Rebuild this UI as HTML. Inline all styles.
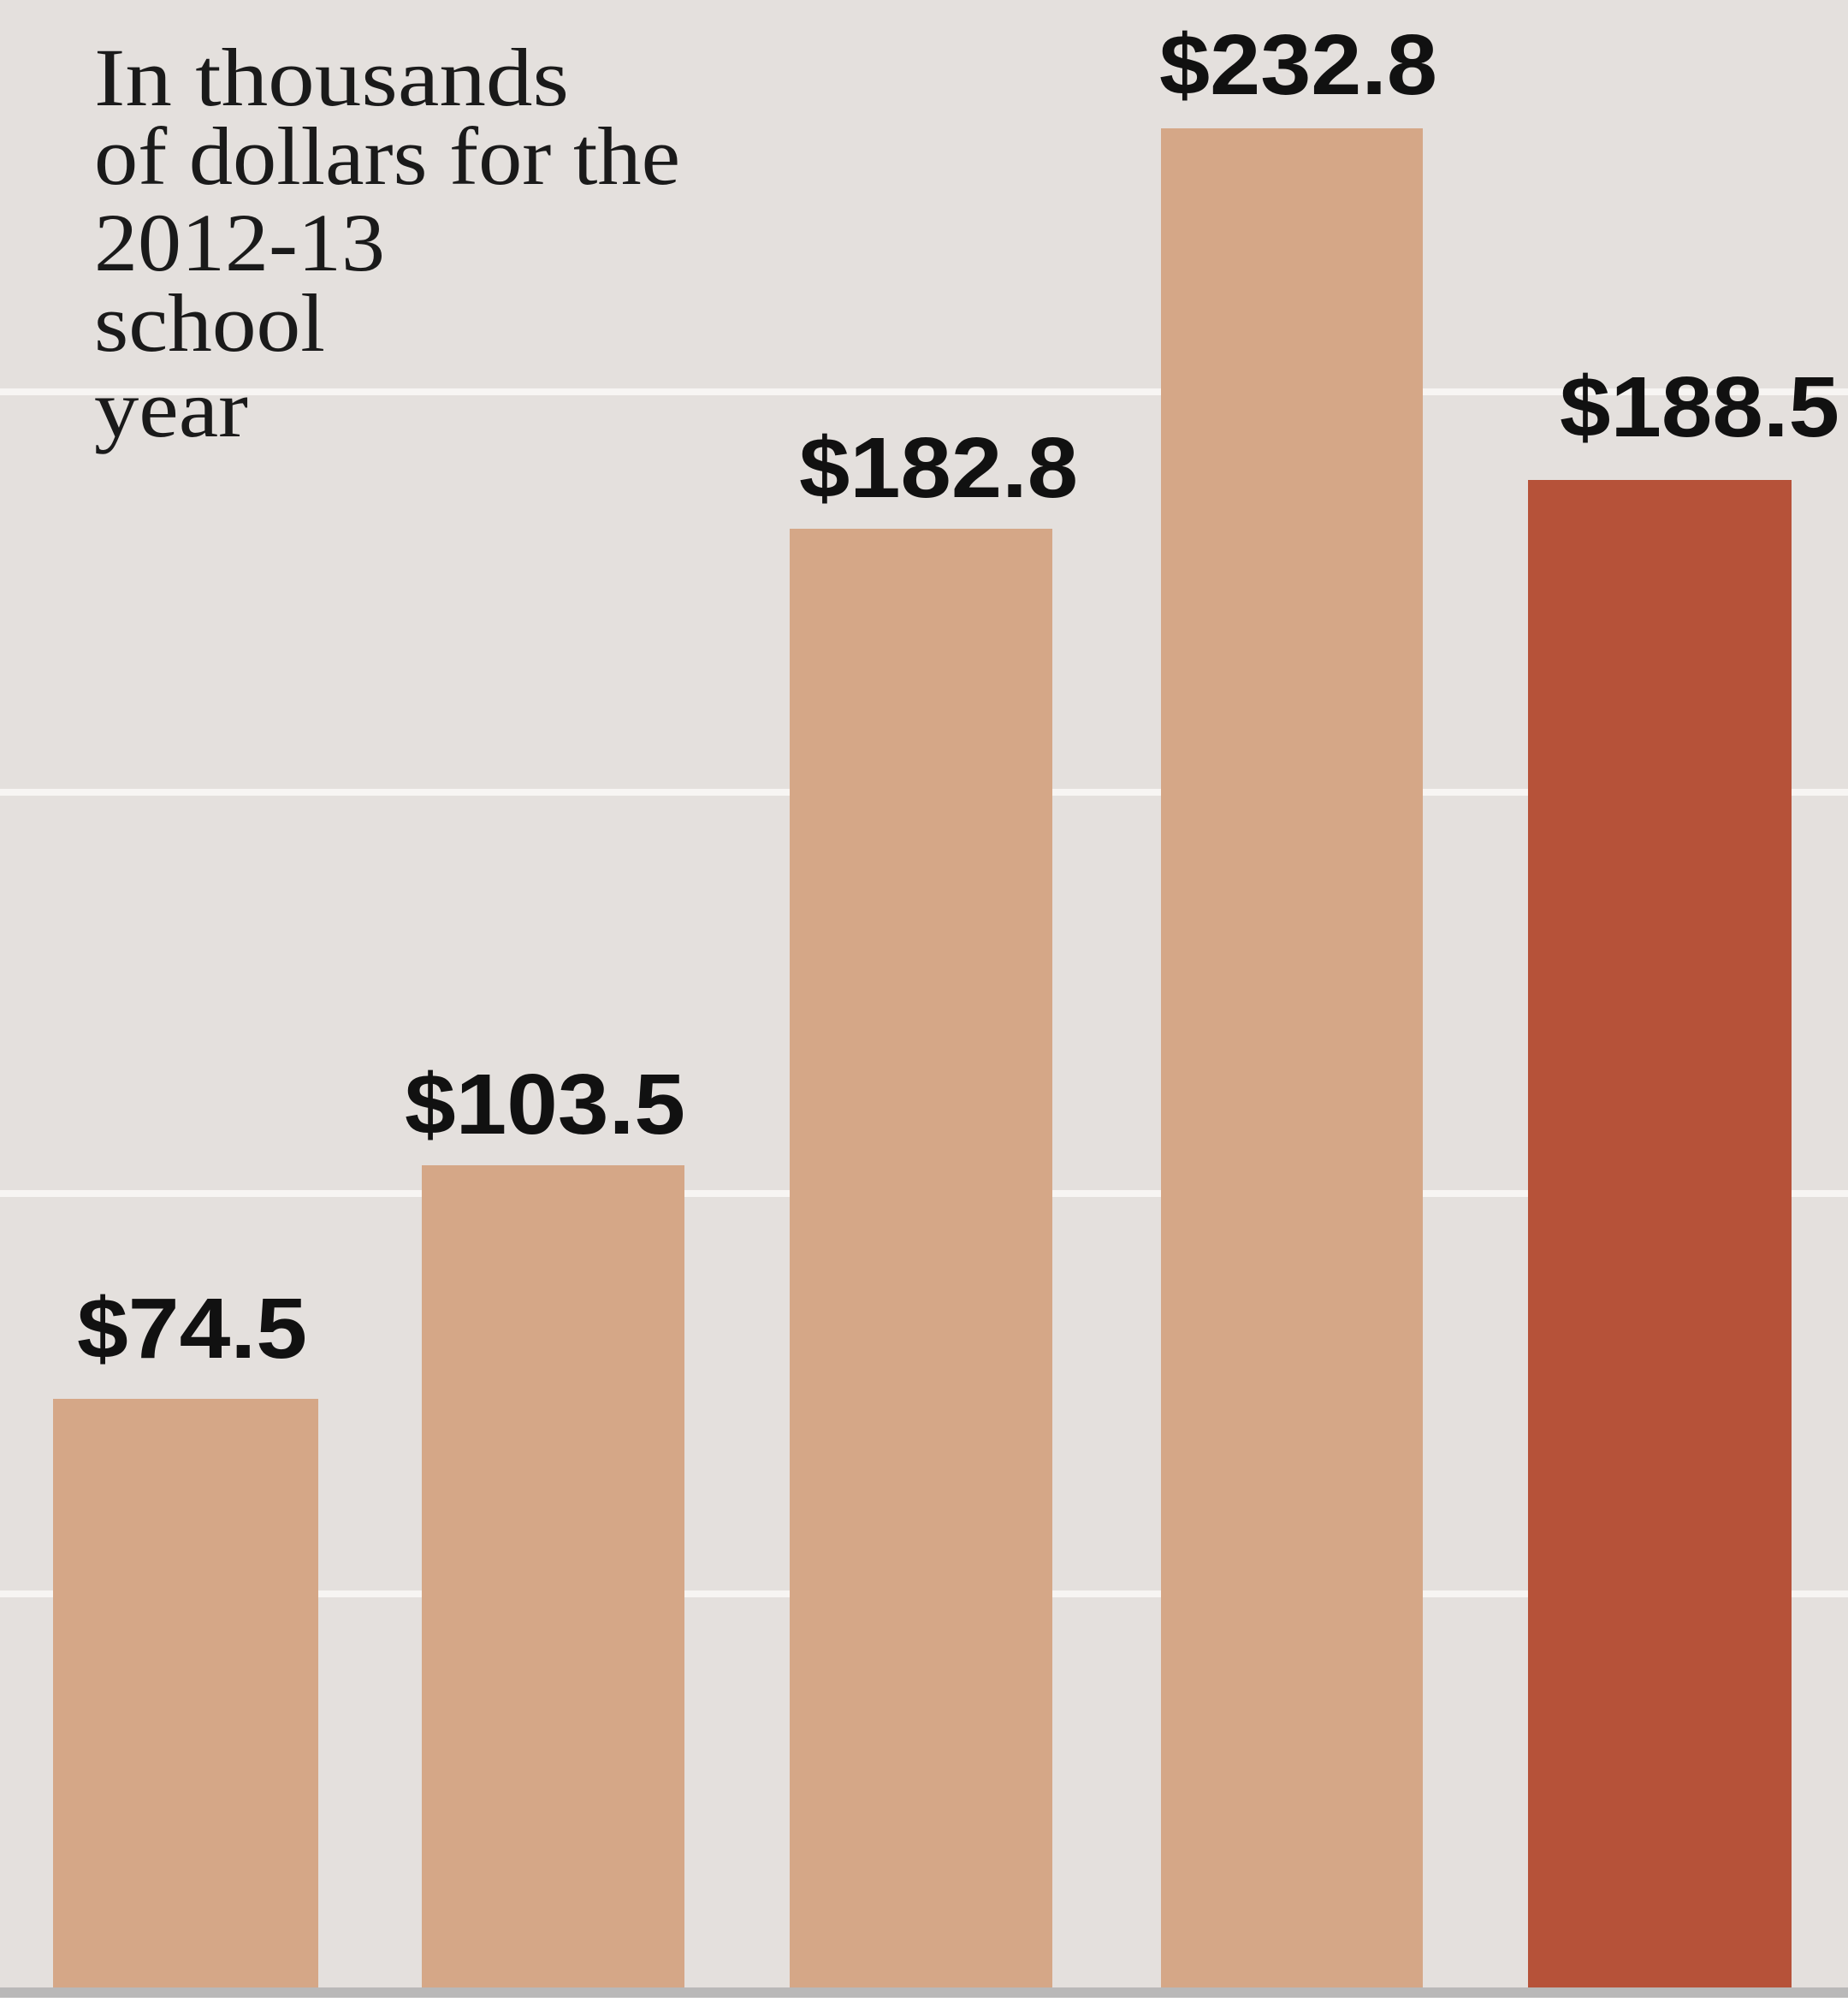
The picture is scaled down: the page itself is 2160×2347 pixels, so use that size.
<!DOCTYPE html>
<html><head><style>html,body{margin:0;padding:0;background:#e4e0dd}</style></head>
<body>
<svg width="2160" height="2347" xmlns="http://www.w3.org/2000/svg" style="display:block">
<rect width="2160" height="2347" fill="#e4e0dd"/>
<g fill="#f7f5f3">
<rect x="0" y="454" width="2160" height="8"/>
<rect x="0" y="922" width="2160" height="8"/>
<rect x="0" y="1391" width="2160" height="8"/>
<rect x="0" y="1859" width="2160" height="8"/>
</g>
<g fill="#d5a787">
<rect x="62" y="1635" width="310" height="700"/>
<rect x="493" y="1362" width="307" height="973"/>
<rect x="923" y="618" width="307" height="1717"/>
<rect x="1357" y="150" width="306" height="2185"/>
</g>
<rect x="1786" y="561" width="308" height="1774" fill="#b65239"/>
<rect x="0" y="2323" width="2160" height="12" fill="#b9b8b8"/>
<rect x="0" y="2335" width="2160" height="12" fill="#ffffff"/>
<g font-family="Liberation Serif, serif" font-size="96" fill="#1a1a1a">
<text x="110" y="123" textLength="555" lengthAdjust="spacingAndGlyphs">In thousands</text>
<text x="110" y="215" textLength="685" lengthAdjust="spacingAndGlyphs">of dollars for the</text>
<text x="110" y="316" textLength="340" lengthAdjust="spacingAndGlyphs">2012-13</text>
<text x="110" y="410" textLength="270" lengthAdjust="spacingAndGlyphs">school</text>
<text x="110" y="510" textLength="180" lengthAdjust="spacingAndGlyphs">year</text>
</g>
<g font-family="Liberation Sans, sans-serif" font-weight="bold" font-size="100" fill="#111">
<text x="90" y="1587" textLength="269" lengthAdjust="spacingAndGlyphs">$74.5</text>
<text x="473" y="1325" textLength="328" lengthAdjust="spacingAndGlyphs">$103.5</text>
<text x="934" y="581" textLength="326" lengthAdjust="spacingAndGlyphs">$182.8</text>
<text x="1355" y="110" textLength="325" lengthAdjust="spacingAndGlyphs">$232.8</text>
<text x="1823" y="510" textLength="327" lengthAdjust="spacingAndGlyphs">$188.5</text>
</g>
</svg>
</body></html>
